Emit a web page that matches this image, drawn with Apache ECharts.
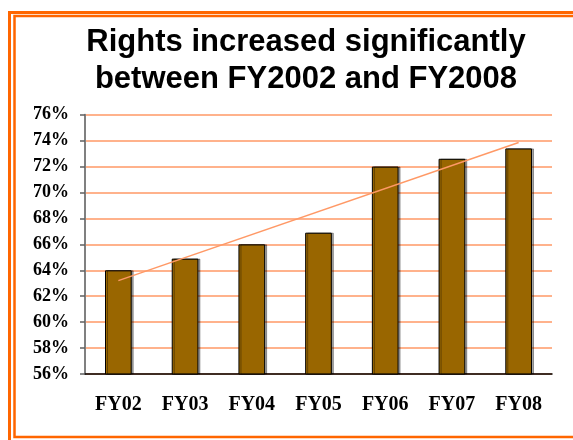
<!DOCTYPE html>
<html>
<head>
    <meta charset="utf-8">
    <title>Rights increased significantly</title>
    <style>
        html, body { margin: 0; padding: 0; background: #fff; }
    </style>
</head>
<body>
    <div id="main" style="width: 573px;height:440px;"></div>

<script type="text/javascript" src="https://cdn.jsdelivr.net/npm/echarts@6/dist/echarts.min.js"></script>
<script type="text/javascript">
// data
var years = ['FY02', 'FY03', 'FY04', 'FY05', 'FY06', 'FY07', 'FY08'];
var rights = [64.0, 64.9, 66.0, 66.9, 72.0, 72.6, 73.4];
// trend line end points (first and last year)
var trend = [63.2, null, null, null, null, null, 73.85];
var yTicks = { min: 56, max: 76, step: 2 };

var myChart = echarts.init(document.getElementById('main'));
var orange = '#ff6600';
var gridColor = '#ff9966';

var option = {
    backgroundColor: '#fff',
    animation: false,
    title: {
        text: 'Rights increased significantly\nbetween FY2002 and FY2008',
        left: 301,
        top: 19,
        textAlign: 'center',
        textStyle: {
            fontFamily: 'Liberation Sans',
            fontWeight: 'bold',
            fontSize: 31,
            lineHeight: 37,
            color: '#000'
        }
    },
    graphic: [{
        type: 'rect',
        silent: true,
        shape: { x: 9.5, y: 12.5, width: 700, height: 500 },
        style: { fill: 'none', stroke: orange, lineWidth: 3 }
    }, {
        type: 'rect',
        silent: true,
        shape: { x: 14.5, y: 16, width: 700, height: 421 },
        style: { fill: 'none', stroke: orange, lineWidth: 2.5 }
    }],
    grid: {
        left: 85,
        right: 21,
        top: 114.7,
        bottom: 66,
        containLabel: false
    },
    xAxis: {
        type: 'category',
        data: years,
        axisLine: { lineStyle: { color: '#000', width: 1.5 } },
        axisTick: { length: 7, lineStyle: { color: '#000', width: 1.5 } },
        axisLabel: {
            margin: 21,
            fontFamily: 'Liberation Serif',
            fontWeight: 'bold',
            fontSize: 20,
            color: '#000'
        }
    },
    yAxis: {
        type: 'value',
        min: yTicks.min,
        max: yTicks.max,
        interval: yTicks.step,
        axisLine: { show: true, lineStyle: { color: '#808080', width: 2 } },
        axisTick: { show: true, length: 5, lineStyle: { color: '#606060', width: 1.5 } },
        axisLabel: {
            margin: 16,
            formatter: '{value}%',
            fontFamily: 'Liberation Serif',
            fontWeight: 'bold',
            fontSize: 18,
            color: '#000'
        },
        splitLine: { lineStyle: { color: gridColor, width: 1.5 } }
    },
    series: [{
        name: 'Rights',
        type: 'bar',
        data: rights,
        barWidth: '40%',
        itemStyle: {
            color: '#996600',
            borderColor: '#000',
            borderWidth: 1,
            shadowColor: 'rgba(0,0,0,0.35)',
            shadowOffsetX: 2,
            shadowBlur: 0
        }
    }, {
        name: 'Trend',
        type: 'line',
        data: trend,
        connectNulls: true,
        symbol: 'none',
        lineStyle: { color: gridColor, width: 1.5 },
        z: 5
    }]
};
myChart.setOption(option);
</script>
</body>
</html>
